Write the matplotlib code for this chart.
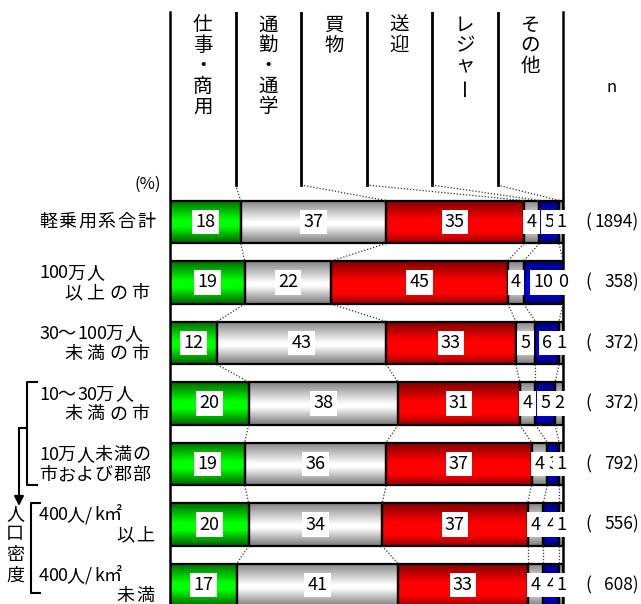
import numpy as np
import matplotlib
matplotlib.use('Agg')
import matplotlib.pyplot as plt
from matplotlib.colors import LinearSegmentedColormap

plt.rcParams['font.family'] = ['Noto Sans CJK JP', 'DejaVu Sans']

# trip purposes (columns) and area groups (rows)
purposes = ['仕事・商用', '通勤・通学', '買物', '送迎', 'レジャー', 'その他']
group_lines = [['軽乗用系合計'],
               ['100万人', '以上の市'],
               ['30～100万人', '未満の市'],
               ['10～30万人', '未満の市'],
               ['10万人未満の', '市および郡部'],
               ['400人/k㎡', '以上'],
               ['400人/k㎡', '未満']]
shares = np.array([[18, 37, 35, 4, 5, 1],
                   [19, 22, 45, 4, 10, 0],
                   [12, 43, 33, 5, 6, 1],
                   [20, 38, 31, 4, 5, 2],
                   [19, 36, 37, 4, 3, 1],
                   [20, 34, 37, 4, 4, 1],
                   [17, 41, 33, 4, 4, 1]])
sample_n = [1894, 358, 372, 372, 792, 556, 608]

# vertical gradients (top -> middle -> bottom) for each purpose
grad_stops = {
    'green': [(0, (0, .42, 0)), (.45, (0, 1, 0)), (.62, (0, 1, 0)), (1, (0, .38, 0))],
    'gray': [(0, (.52, .52, .52)), (.5, (1, 1, 1)), (.58, (1, 1, 1)), (1, (.48, .48, .48))],
    'red': [(0, (.5, 0, 0)), (.45, (1, 0, 0)), (.75, (1, 0, 0)), (1, (.6, 0, 0))],
    'blue': [(0, (0, 0, .45)), (.45, (0, 0, 1)), (.7, (0, 0, 1)), (1, (0, 0, .42))],
}
seg_colors = ['green', 'gray', 'red', 'gray', 'blue', 'gray']
cmaps = {k: LinearSegmentedColormap.from_list(k, v) for k, v in grad_stops.items()}

W, H = 641, 604
fig = plt.figure(figsize=(W / 100, H / 100), dpi=100)
ax_left, ax_right, ax_top = 170, 563, 12
ax = fig.add_axes([ax_left / W, 0, (ax_right - ax_left) / W, (H - ax_top) / H])

row0, row_step = 222, 60.5   # pixel centre of first row, pixel spacing


def xpx(p):
    return (p - ax_left) / (ax_right - ax_left) * 100


def ypx(p):
    return (p - row0) / row_step


ax.set_xlim(0, 100)
ax.set_ylim(ypx(H), ypx(ax_top))
bar_h = 0.71
head_bottom = ypx(185)

grad = np.linspace(0, 1, 64)
cum = np.hstack([np.zeros((len(shares), 1)), np.cumsum(shares, axis=1)])

for i, row in enumerate(shares):
    for k, v in enumerate(row):
        left = cum[i, k]
        if v > 0:
            img = cmaps[seg_colors[k]](grad)[:, None, :3]
            ax.imshow(img, extent=(left, left + v, i + bar_h / 2, i - bar_h / 2),
                      origin='upper', aspect='auto', interpolation='bilinear', zorder=1)
        ax.barh(i, v, left=left, height=bar_h, fill=False, edgecolor='black',
                linewidth=1.6, zorder=2)
        ax.text(left + v / 2, i, str(v), ha='center', va='center', fontsize=13,
                zorder=4, clip_on=False,
                bbox=dict(boxstyle='square,pad=0.18', fc='white', ec='none'))

# dotted series lines between neighbouring bars
for i in range(len(shares) - 1):
    for k in range(1, len(purposes)):
        ax.plot([cum[i, k], cum[i + 1, k]], [i + bar_h / 2, i + 1 - bar_h / 2],
                ls=(0, (1, 1.5)), lw=0.9, color='#333333', zorder=3)

# header columns with vertical labels
col_w = 100 / len(purposes)
for k in range(1, len(purposes)):
    ax.plot([k * col_w, k * col_w], [ypx(ax_top), head_bottom], color='black', lw=2)
    ax.plot([k * col_w, cum[0, k]], [head_bottom, -bar_h / 2],
            ls=(0, (1, 1.5)), lw=0.9, color='#333333')
for k, name in enumerate(purposes):
    for j, ch in enumerate(name):
        ax.text((k + 0.5) * col_w, ypx(25 + 20.5 * j), ch, ha='center', va='center',
                fontsize=14, rotation=90 if ch == 'ー' else 0)

# row labels, drawn char by char for the wide letter spacing
line_layout = [[(39, 19.6)],
               [(39, 20), (64, 22.5)],
               [(39, 19.5), (64, 22.5)],
               [(39, 19.5), (64, 22.5)],
               [(39, 18.6), (39, 18.6)],
               [(39, 18), (116, 20)],
               [(39, 18), (116, 20)]]
for i, lines in enumerate(group_lines):
    offs = [0] if len(lines) == 1 else [-9, 11]
    for text, (x0, pitch), dy in zip(lines, line_layout[i], offs):
        x = x0
        for ch in text:
            ax.text(xpx(x), i + dy / row_step, ch, ha='left', va='center',
                    fontsize=13, clip_on=False)
            x += pitch if ord(ch) > 0x2000 else 9.3

# sample sizes
ax.text(xpx(612), ypx(88), 'n', ha='center', va='center', fontsize=12, clip_on=False)
for i, n in enumerate(sample_n):
    ax.text(xpx(585), i, '(', ha='left', va='center', fontsize=12.5, clip_on=False)
    ax.text(xpx(639), i, f'{n})', ha='right', va='center', fontsize=12.5, clip_on=False)
ax.text(xpx(161), ypx(184), '(%)', ha='right', va='center', fontsize=12, clip_on=False)

# brackets for the city-size / density groups
line_kw = dict(color='black', lw=1.5, clip_on=False)
ax.plot([xpx(37), xpx(27), xpx(27), xpx(37)], [3 - bar_h / 2, 3 - bar_h / 2, 4 + bar_h / 2, 4 + bar_h / 2], **line_kw)
ax.plot([xpx(40), xpx(31), xpx(31), xpx(40)], [5 - bar_h / 2, 5 - bar_h / 2, 6 + 0.13, 6 + 0.13], **line_kw)
ax.plot([xpx(27), xpx(19)], [ypx(428), ypx(428)], **line_kw)
ax.annotate('', xy=(xpx(19), ypx(506)), xytext=(xpx(19), ypx(428)),
            arrowprops=dict(arrowstyle='-|>', color='black', lw=1.5,
                            mutation_scale=14, shrinkA=0, shrinkB=0),
            annotation_clip=False)
for j, ch in enumerate('人口密度'):
    ax.text(xpx(15), ypx(514 + 20.5 * j), ch, ha='center', va='center',
            fontsize=13, clip_on=False)

for side in ['top', 'bottom']:
    ax.spines[side].set_visible(False)
for side in ['left', 'right']:
    ax.spines[side].set_linewidth(1.8)
ax.set_xticks([])
ax.set_yticks([])

fig.savefig('out.png', dpi=100)
